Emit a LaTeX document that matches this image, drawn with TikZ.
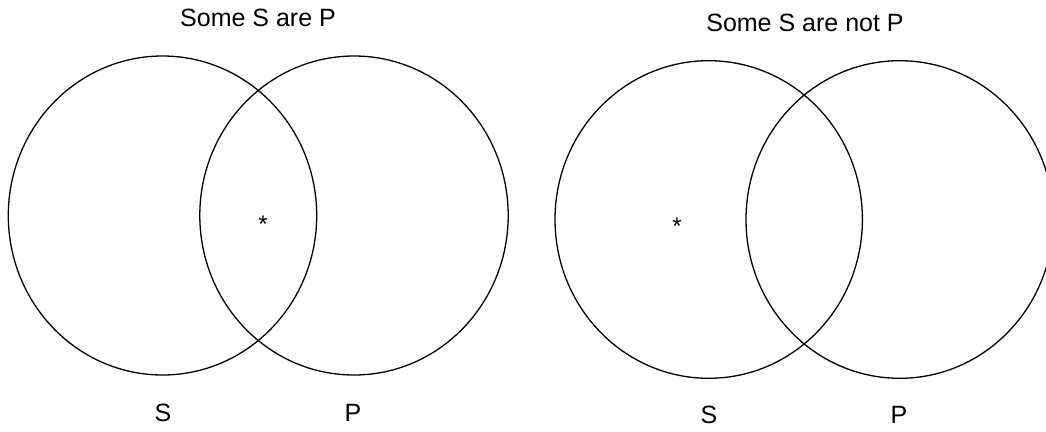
\documentclass[tikz,border=0pt]{standalone}
\usepackage{fontspec}
\setmainfont{Liberation Sans}
\begin{document}
\begin{tikzpicture}[x=1pt,y=-1pt,
  venn/.style={draw=black,line width=1.3pt},
  lbl/.style={font=\fontsize{25}{30}\selectfont,inner sep=0pt,anchor=center},
  star/.style={font=\fontsize{24}{28}\selectfont,inner sep=0pt}]
\useasboundingbox (0,0) rectangle (1046,431);
\clip (0,0) rectangle (1046,431);
% left diagram
\draw[venn] (162.5,215.5) ellipse [x radius=154.2, y radius=159.5];
\draw[venn] (354,215.5) ellipse [x radius=154.2, y radius=159.5];
\node[lbl] (t1) at (258,18) {Some S are P};
\node[star] (a1) at (263,224) {*};
\node[lbl] (s1) at (163,413) {S};
\node[lbl] (p1) at (353,413) {P};
% right diagram
\draw[venn] (708.7,219.5) ellipse [x radius=153.7, y radius=158.8];
\draw[venn] (899.7,219.5) ellipse [x radius=153.7, y radius=158.8];
\node[lbl] (t2) at (805,23) {Some S are not P};
\node[star] (a2) at (677,226) {*};
\node[lbl] (s2) at (709,415) {S};
\node[lbl] (p2) at (899,415) {P};
\end{tikzpicture}
\end{document}
